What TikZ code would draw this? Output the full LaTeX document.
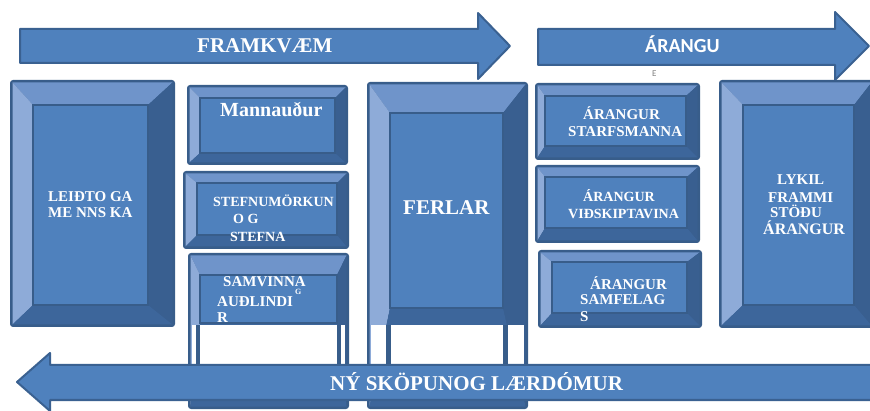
\documentclass[tikz,border=0pt]{standalone}
\usepackage{fontspec}
\setmainfont{Liberation Serif}
\newfontfamily\calfont{Carlito}
\definecolor{bmid}{HTML}{4F81BD}
\definecolor{bdark}{HTML}{385D8A}
\definecolor{btop}{HTML}{6F94CA}
\definecolor{bleft}{HTML}{8EABD8}
\definecolor{bright}{HTML}{395F90}
\definecolor{bbot}{HTML}{3D669B}
\definecolor{aline}{HTML}{3A6191}
% bevelled panel: outer corner (#1,#2) to (#3,#4); bevel widths left #5, top #6, right #7, bottom #8
\newcommand\bevbox[8]{%
  \fill[bdark, rounded corners=3pt] (#1,#2) rectangle (#3,#4);
  \fill[btop] ({#1+2.5},{#2+2.5}) -- ({#3-2.5},{#2+2.5}) -- ({#3-#7},{#2+#6}) -- ({#1+#5},{#2+#6}) -- cycle;
  \fill[bleft] ({#1+2.5},{#2+2.5}) -- ({#1+#5},{#2+#6}) -- ({#1+#5},{#4-#8}) -- ({#1+2.5},{#4-2.5}) -- cycle;
  \fill[bright] ({#3-2.5},{#2+2.5}) -- ({#3-2.5},{#4-2.5}) -- ({#3-#7},{#4-#8}) -- ({#3-#7},{#2+#6}) -- cycle;
  \fill[bbot] ({#1+2.5},{#4-2.5}) -- ({#3-2.5},{#4-2.5}) -- ({#3-#7},{#4-#8}) -- ({#1+#5},{#4-#8}) -- cycle;
  \filldraw[fill=bmid, draw=bdark, line width=2.5pt] ({#1+#5},{#2+#6}) rectangle ({#3-#7},{#4-#8});
}
\begin{document}
\begin{tikzpicture}[x=1pt, y=-1pt,
  arrowshape/.style={fill=bmid, draw=aline, line width=2pt, line join=round},
  lbl/.style={text=white, font=\bfseries, inner sep=0pt, anchor=base west},
  sz/.style={font=\bfseries\fontsize{#1}{#1}\selectfont}]
\useasboundingbox (0,0) rectangle (870,411);
\begin{scope}
\clip (0,0) rectangle (870,411);

% top arrows
\path[arrowshape] (20,29) -- (478,29) -- (478,13) -- (510,46) -- (478,79) -- (478,63) -- (20,63) -- cycle;
\path[arrowshape] (538,29) -- (835,29) -- (835,12) -- (869,46) -- (835,80) -- (835,65) -- (538,65) -- cycle;

% panels
\bevbox{10}{80}{175}{327}{23}{25}{27}{22}
\bevbox{187}{85}{348}{165}{13}{13}{13}{12}
\bevbox{183}{171}{349}{249}{14}{12}{12}{14}
\bevbox{188}{253}{349}{409}{12}{22}{12}{86}
\fill[white] (192,325) rectangle (345,400);
\fill[bdark] (196,325) rectangle (200,400);
\fill[bdark] (337,325) rectangle (341,400);
\bevbox{367}{82}{528}{409}{23}{31}{25}{101}
\fill[white] (371,325) rectangle (524,400);
\fill[bdark] (386,325) rectangle (391,400);
\fill[bdark] (503,325) rectangle (508,400);
\bevbox{535}{83}{700}{160}{10}{13}{14}{14}
\bevbox{535}{165}{700}{243}{10}{12}{13}{15}
\bevbox{538}{250}{702}{328}{14}{12}{15}{15}
\bevbox{719}{80}{874}{328}{24}{25}{20}{23}

% bottom arrow
\path[arrowshape] (872,365) -- (50,365) -- (50,353) -- (17,382) -- (50,411) -- (50,400) -- (872,400);
\end{scope}

% labels
\node[lbl, sz=21] (fram) at (197,53) {FRAMKVÆM};
\node[lbl, font=\calfont\bfseries\fontsize{20}{20}\selectfont] (arangu) at (645,53) {ÁRANGU};
\node[lbl, text=gray, font=\calfont\fontsize{9}{9}\selectfont] (arangub) at (652,77) {E};

\node[lbl, sz=15] (lead1) at (48,202) {LEIÐTO GA};
\node[lbl, sz=15] (lead2) at (48,218) {ME NNS KA};

\node[lbl, sz=20] (mann) at (220,117) {Mannauður};

\node[lbl, sz=14] (stef1) at (213,207) {STEFNUMÖRKUN};
\node[lbl, sz=14] (stef2) at (233,224) {O G};
\node[lbl, sz=14] (stef3) at (230,242) {STEFNA};

\node[lbl, sz=15] (samv1) at (223,287) {SAMVINNA};
\node[lbl, sz=15] (samv2) at (217,307) {AUÐLINDI};
\node[lbl, sz=8] (samv3) at (295,295) {G};
\node[lbl, sz=15] (samv4) at (217,323) {R};

\node[lbl, sz=21] (ferlar) at (403,215) {FERLAR};

\node[lbl, sz=15] (ar11) at (583,120) {ÁRANGUR};
\node[lbl, sz=15] (ar12) at (568,137) {STARFSMANNA};
\node[lbl, sz=14] (ar21) at (583,202) {ÁRANGUR};
\node[lbl, sz=14] (ar22) at (568,219) {VIÐSKIPTAVINA};
\node[lbl, sz=15] (ar31) at (590,290) {ÁRANGUR};
\node[lbl, sz=15] (ar32) at (580,305) {SAMFELAG};
\node[lbl, sz=15] (ar33) at (580,322) {S};

\node[lbl, sz=15] (lyk1) at (777,185) {LYKIL};
\node[lbl, sz=15] (lyk2) at (768,203) {FRAMMI};
\node[lbl, sz=15] (lyk3) at (770,218) {STÖÐU};
\node[lbl, sz=16] (lyk4) at (763,235) {ÁRANGUR};

\node[lbl, sz=21] (nysk) at (330,391) {NÝ SKÖPUNOG LÆRDÓMUR};
\end{tikzpicture}
\end{document}
